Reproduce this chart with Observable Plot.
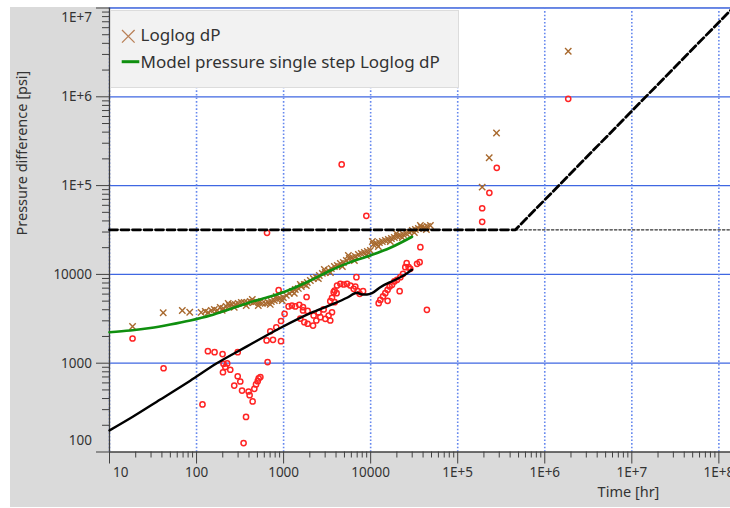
<!DOCTYPE html>
<html>
<head>
<meta charset="utf-8">
<script src="https://cdn.jsdelivr.net/npm/d3@7"></script>
<script src="https://cdn.jsdelivr.net/npm/@observablehq/plot@0.6"></script>
<style>
  body { margin: 0; background: #fff; font-family: "Noto Sans", sans-serif; }
  #wrap { position: relative; width: 730px; height: 508px; overflow: hidden; }
  #panel { position: absolute; left: 10px; top: 7px; width: 720px; height: 500px; background: #dadada; }
  #chart { position: absolute; left: 0; top: 0; }
  #legend { position: absolute; left: 110px; top: 10px; width: 349px; height: 78px; box-sizing: border-box;
            background: #f2f2f2; border: 1px solid #dcdcdc; color: #333; font-size: 17px; }
  #legend svg { position: absolute; left: 0; top: 0; }
  .item { position: absolute; left: 29.5px; line-height: 20px; white-space: nowrap; }
</style>
</head>
<body>
<div id="wrap">
  <div id="panel"></div>
  <div id="chart"></div>
  <div id="legend">
    <svg width="32" height="76">
      <path d="M11,19 L23.6,31.6 M23.6,19 L11,31.6" stroke="#b98057" stroke-width="1.3" fill="none"/>
      <line x1="10.7" x2="28.3" y1="50.7" y2="50.7" stroke="#0f8f0f" stroke-width="3"/>
    </svg>
    <div class="item" style="top:14px">Loglog dP</div>
    <div class="item" style="top:40.5px">Model pressure single step Loglog dP</div>
  </div>
</div>
<script>
// Tick values of the two log axes
const xMajor = [10, 100, 1000, 10000, 1e5, 1e6, 1e7, 1e8];
const yMajor = [100, 1000, 10000, 1e5, 1e6, 1e7];

// Measured pressure derivative (open red circles): [time hr, dP psi]
const derivative = [
  [18.4,1897],[41.8,877],[117,343],
  [135,1365],[161,1330],[199,1268],[297,1330],[204,985],[225,993],[214,906],[244,844],[201,791],
  [297,713],[318,622],[271,560],[333,492],[396,480],[407,436],[441,371],[461,515],[482,577],
  [504,628],[517,673],[541,697],[370,248],[347,126],
  [655,1030],[638,1803],[755,1834],[933,1770],[703,2291],[824,2541],[933,2985],[1026,3597],
  [877,6637],[645,29380],
  [1141,4355],[1247,4467],[1362,4355],[1514,4550],[1671,4276],[1837,5566],[1671,3926],[1888,3875],
  [1730,2896],[1888,2780],[2178,2656],[2377,3027],[2642,3296],[3013,3162],[3289,3443],[3597,3750],
  [3436,3027],[2523,3724],[2884,4034],[2213,3443],[1556,3184],
  [3597,5460],[3758,6310],[3855,6590],[4111,7500],[4487,7833],[4898,7694],[5358,7833],[5848,7500],
  [6383,6885],[6668,7311],[7093,6466],[7478,6050],[8184,6466],[4064,6138],[3855,4864],[3436,4989],
  [6860,9300],[4646,173000],[8920,45700],
  [12360,4745],[12910,5165],[13860,5649],[14730,6152],[15660,6700],[16510,7321],[17600,7632],
  [18710,8340],[20090,8690],[21930,9300],[23540,10160],[25000,12050],[25920,13370],[27310,12050],
  [28550,11560],[15660,5035],[21530,6466],[34120,13150],[36540,13720],[37240,20240],[44260,3990],
  [191000,55600],[191000,39100],[231000,83000],[281000,158500],[1860000,950000]
];

// Measured pressure difference, "Loglog dP" (brown crosses): [time hr, dP psi]
const loglogDP = [
  [18.4,2590],[41.4,3700],[68.6,3920],[83.5,3750],
  [113,3730],[126,3830],[136,3730],[148,3930],[160,4030],[173,3930],[187,4250],[203,4140],[219,4360],
  [238,4470],[257,4590],[279,4590],[301,4710],[327,4830],[353,4830],[383,4830],[414,4960],[449,4830],
  [485,4960],[526,4830],[569,4710],[617,4710],[667,4830],[722,4960],[782,5090],[847,5230],[916,5370],
  [993,5500],[1074,5800],[1164,6110],[1259,6430],[1362,6770],[1476,6950],[1596,7310],[1730,7710],
  [1871,8110],[2028,8550],[2193,9000],[2377,9250],[2570,9730],[2786,10260],[3013,10520],[3266,11070],
  [3532,11670],[3828,12270],[4140,12590],[4487,13270],[4853,13620],[5260,14350],[5689,15100],
  [6166,15520],[6668,15920],[7228,16750],[7816,17180],[8472,17660],[9162,18110],[9931,18580],
  [10740,21730],[11640,22280],[12590,22860],[13620,23500],[14760,24100],[15960,24720],[17300,25350],
  [18710,26060],[20280,26730],[21930,27420],[23770,28120],[25700,28900],[27860,29630],[30130,31190],
  [32660,32060],[35320,32890],[38280,33730],[41400,33730],[44870,34620],[48530,35560],
  [197,3930],[271,4250],[372,4470],[512,4470],[703,4590],[966,5090],[1327,6110],[1824,7500],
  [2506,9000],[3443,10520],[4732,12270],[6501,14350],[8930,16330],[12270,20620],[16830,23500],
  [23120,26060],[31770,29630],[43650,32060],
  [231,4710],[437,5230],[824,5640],[1556,7710],[2938,11350],[5546,16330],[10470,23500],
  [19720,28900],[37240,35560],
  [191000,96000],[230000,206000],[279000,391000],[1860000,3260000]
];

// Model pressure, single step (green line)
const modelDP = [
  [10,2234],[17.3,2333],[29.4,2489],[49.9,2727],[84.7,3028],[144,3446],[244,4079],[414,4865],
  [703,5636],[1194,6760],[2028,8533],[3443,11070],[5848,13740],[9931,16350],[16830,19950],[29920,26550]
];

// Model pressure derivative (black line)
const modelDeriv = [
  [10,175],[18.7,251],[38.3,390],[84.7,635],[169,990],[379,1546],[916,2490],[2028,3656],
  [3726,4665],[5350,5460],[6970,6210],[7960,5940],[9080,5940],[10370,6150],[12910,7180],
  [18370,8530],[23930,9730],[29870,11270]
];

// Stabilization and unit-slope guide lines
const guideLine = [[10,31800],[460000,31800],[1.36e8,9400000]];
const flatTail = [[460000,31800],[1.36e8,31800]];

const fmt = v => v >= 1e5 ? "1E+" + Math.round(Math.log10(v)) : String(v);

const minorTicks = (lo, hi) => {
  const out = [];
  for (let d = lo; d < hi; d *= 10) for (let k = 2; k <= 9; k++) out.push(k * d);
  return out;
};
const xMinor = minorTicks(10, 1e8);
const yMinor = minorTicks(100, 1e7);

const axisColor = "#404040";
const labelColor = "#333";
const tickFont = 13.5;

const chart = Plot.plot({
  width: 730,
  height: 508,
  marginLeft: 109,
  marginRight: 0,
  marginTop: 7.5,
  marginBottom: 56.5,
  style: { background: "transparent", fontFamily: '"Noto Sans", sans-serif' },
  x: { type: "log", domain: [10, 1.36e8], axis: null },
  y: { type: "log", domain: [100, 1e7], axis: null },
  marks: [
    Plot.frame({ fill: "white", stroke: null }),
    // grid
    Plot.ruleY(yMajor.slice(1), { stroke: "#3f67e2", strokeWidth: 1.3 }),
    Plot.ruleX(xMajor, { stroke: "#6688ee", strokeWidth: 1.6, strokeDasharray: "1.6,2" }),
    // axis lines and ticks
    Plot.ruleX([10], { stroke: axisColor, strokeWidth: 1.3 }),
    Plot.ruleY([100], { stroke: axisColor, strokeWidth: 1.3 }),
    Plot.axisX({ ticks: xMajor, tickSize: 12, tickFormat: () => "", label: null, stroke: axisColor }),
    Plot.axisX({ ticks: xMinor, tickSize: 6, tickFormat: () => "", label: null, stroke: axisColor }),
    Plot.axisY({ ticks: yMajor, tickSize: 13, tickFormat: () => "", label: null, stroke: axisColor }),
    Plot.axisY({ ticks: yMinor, tickSize: 7, tickFormat: () => "", label: null, stroke: axisColor }),
    // tick labels
    Plot.text(xMajor.slice(1), { x: d => d, text: fmt, frameAnchor: "bottom", dy: 24.5, fontSize: tickFont, fill: labelColor }),
    Plot.text(xMajor.slice(0, 1), { x: d => d, text: fmt, frameAnchor: "bottom", textAnchor: "start", dx: 3.5, dy: 24.5, fontSize: tickFont, fill: labelColor }),
    Plot.text(yMajor.slice(1, -1), { y: d => d, text: fmt, frameAnchor: "left", textAnchor: "end", dx: -17.5, fontSize: tickFont, fill: labelColor }),
    Plot.text(yMajor.slice(0, 1), { y: d => d, text: fmt, frameAnchor: "left", textAnchor: "end", dx: -17.5, dy: -11, fontSize: tickFont, fill: labelColor }),
    Plot.text(yMajor.slice(-1), { y: d => d, text: fmt, frameAnchor: "left", textAnchor: "end", dx: -17.5, dy: 10, fontSize: tickFont, fill: labelColor }),
    // axis titles
    Plot.text(["Pressure difference [psi]"], { text: d => d, frameAnchor: "left", rotate: -90, dx: -87, dy: 5.5, fontSize: 14.5, fill: labelColor }),
    Plot.text(["Time [hr]"], { text: d => d, frameAnchor: "bottom", dx: 208.5, dy: 45, fontSize: 14.5, fill: labelColor }),
    // data
    Plot.dot(derivative, { x: d => d[0], y: d => d[1], r: 2.6, fill: "none", stroke: "#ff2424", strokeWidth: 1.5 }),
    Plot.dot(loglogDP, { x: d => d[0], y: d => d[1], symbol: "times", r: 3, stroke: "#a8692e", strokeWidth: 1.4 }),
    Plot.line(modelDP, { x: d => d[0], y: d => d[1], stroke: "#0f8f0f", strokeWidth: 2.6, curve: "monotone-x" }),
    Plot.line(modelDeriv, { x: d => d[0], y: d => d[1], stroke: "#000", strokeWidth: 2.4, curve: "monotone-x" }),
    Plot.line(flatTail, { x: d => d[0], y: d => d[1], stroke: "#333", strokeWidth: 1.2, strokeDasharray: "2.5,2" }),
    Plot.line(guideLine, { x: d => d[0], y: d => d[1], stroke: "#000", strokeWidth: 2.8, strokeDasharray: "8,3.5" })
  ]
});

document.getElementById("chart").appendChild(chart);
</script>
</body>
</html>
